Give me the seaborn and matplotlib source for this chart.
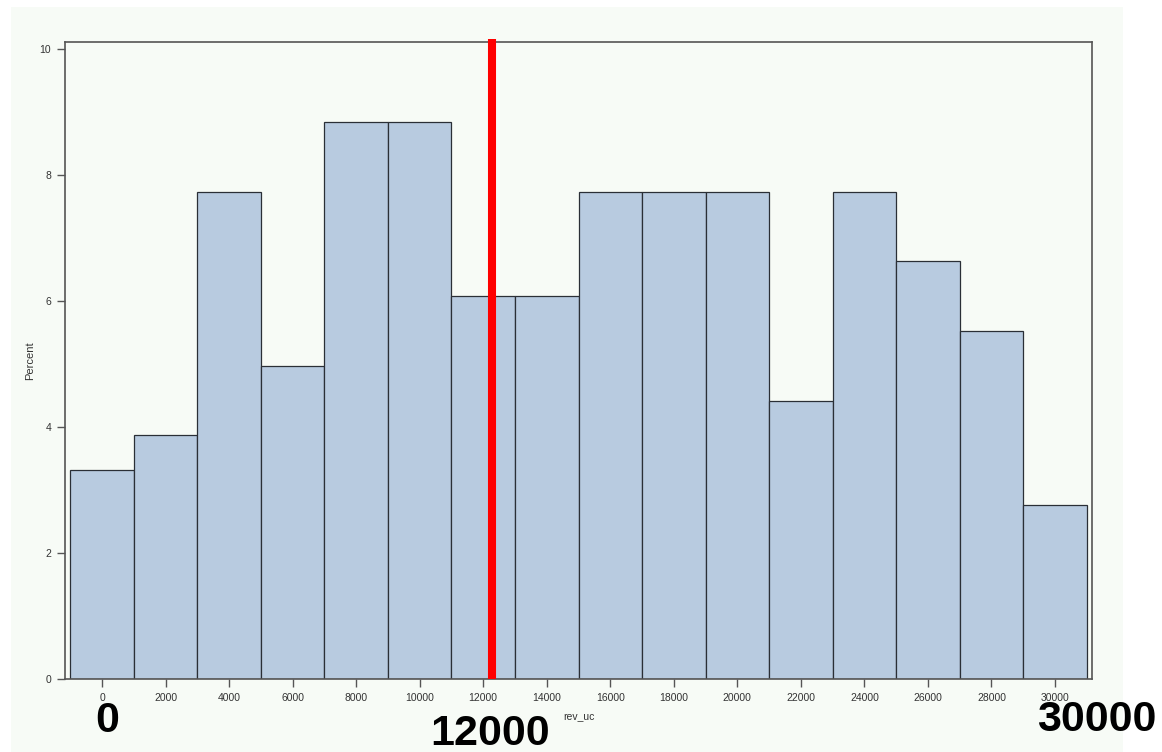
import numpy as np
import pandas as pd
import matplotlib
matplotlib.use("Agg")
import matplotlib.pyplot as plt
import matplotlib.transforms as mtransforms
from matplotlib.patches import Rectangle
import seaborn as sns

# Histogram of rev_uc: bin midpoints and percent per bin
bin_mids = [0, 2000, 4000, 6000, 8000, 10000, 12000, 14000, 16000,
            18000, 20000, 22000, 24000, 26000, 28000, 30000]
percent = [3.31, 3.87, 7.73, 4.97, 8.84, 8.84, 6.08, 6.08, 7.73,
           7.73, 7.73, 4.42, 7.73, 6.63, 5.52, 2.76]
bin_edges = list(range(-1000, 31001, 2000))
x_ticks = list(range(0, 30001, 2000))
y_ticks = [0, 2, 4, 6, 8, 10]
ref_value = 12275
big_labels = ["0", "12000", "30000"]

df = pd.DataFrame({"rev_uc": bin_mids, "pct": percent})

sns.set_style("white")
plt.rcParams["font.family"] = ["Liberation Sans", "DejaVu Sans"]

bg = "#f7fbf6"
fig = plt.figure(figsize=(11.62, 7.52), dpi=100, facecolor="white")
# light backdrop panel, behind the axes
fig.patches.append(Rectangle((11 / 1162, 0), 1112 / 1162, 745 / 752,
                             transform=fig.transFigure, facecolor=bg,
                             edgecolor="none", zorder=-10))
ax = fig.add_axes([65 / 1162, 1 - 679 / 752, 1027 / 1162, 637 / 752])
ax.set_facecolor(bg)

sns.histplot(data=df, x="rev_uc", weights="pct", bins=bin_edges,
             color="#b8cbe0", alpha=1, edgecolor="#2a2f36", linewidth=0.9,
             ax=ax)

ax.set_xlim(-1165, 31165)
ax.set_ylim(0, 10.11)
ax.set_xticks(x_ticks)
ax.set_yticks(y_ticks)
ax.tick_params(axis="both", direction="out", length=6, width=1,
               bottom=True, left=True, color="#555555",
               labelsize=7.5, labelcolor="#333333")
ax.tick_params(axis="x", pad=4)
ax.tick_params(axis="y", pad=4)
for s in ax.spines.values():
    s.set_color("#555555")
    s.set_linewidth(1.2)

ax.set_xlabel("rev_uc", fontsize=7.5, color="#333333", labelpad=6)
ax.set_ylabel("Percent", fontsize=8, color="#333333", labelpad=3)

# reference line
ax.plot([ref_value, ref_value], [0, 10.16], color="red", linewidth=5.8,
        solid_capstyle="butt", clip_on=False, zorder=5)

# big annotation labels
trans = mtransforms.blended_transform_factory(fig.transFigure, fig.transFigure)
positions = [(107 / 1162, 1 - 732 / 752), (490 / 1162, 1 - 745 / 752),
             (1097 / 1162, 1 - 731 / 752)]
for lab, (px, py) in zip(big_labels, positions):
    fig.text(px, py, lab, transform=trans, ha="center", va="baseline",
             fontsize=31, fontweight="bold", color="black")

fig.savefig("out.png", dpi=100, facecolor="white")
